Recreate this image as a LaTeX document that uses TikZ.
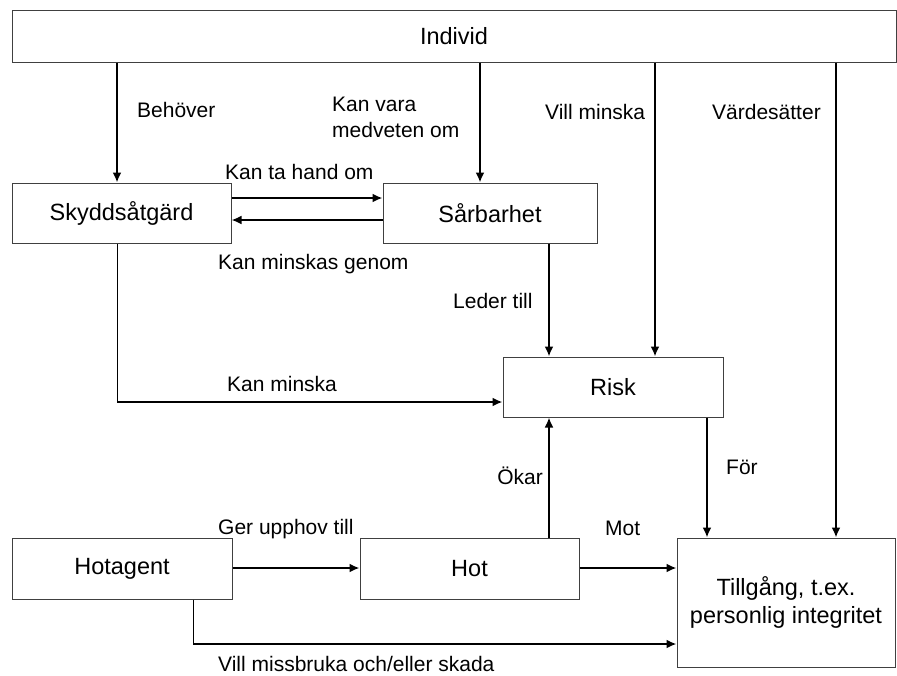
\documentclass[tikz,border=0pt]{standalone}
\usepackage{fontspec}
\setmainfont{Liberation Sans}
\usetikzlibrary{arrows.meta}

\begin{document}
\begin{tikzpicture}[x=1pt,y=-1pt]
        \tikzstyle{box}=[draw=black!75,line width=1pt,rectangle,inner sep=0pt,font=\fontsize{23.5}{28}\selectfont,align=center]
        \tikzstyle{lbl}=[inner sep=0pt,anchor=west,font=\fontsize{21}{26}\selectfont,align=left]
        \tikzstyle{arr}=[line width=2pt,-{Latex[length=10pt,width=9pt]}]
        \useasboundingbox (0,0) rectangle (897,675);
        % boxes
        \node[box,minimum width=884pt,minimum height=52pt] (individ) at (454,36) {Individ};
        \node[box,minimum width=219pt,minimum height=60pt] (skydd) at (121.5,213) {Skyddsåtgärd};
        \node[box,minimum width=214pt,minimum height=60pt] (sarbar) at (490,213) {Sårbarhet};
        \node[box,minimum width=220pt,minimum height=60pt] (risk) at (613,387) {Risk};
        \node[box,minimum width=220pt,minimum height=61pt] (hotagent) at (122,568.5) {Hotagent};
        \node[box,minimum width=219pt,minimum height=61pt] (hot) at (469.5,568.5) {Hot};
        \node[box,minimum width=218pt,minimum height=129pt] (tillgang) at (786,602.5) {Tillgång, t.ex.\\personlig integritet};
        % columns and rows of the connectors
        \coordinate (xskydd) at (117,0);
        \coordinate (xsarbar) at (480,0);
        \coordinate (xlead) at (549,0);
        \coordinate (xvill) at (655,0);
        \coordinate (xfor) at (707,0);
        \coordinate (xvarde) at (836,0);
        \coordinate (xagent) at (193,0);
        \coordinate (yta) at (0,198);
        \coordinate (ymin) at (0,220);
        \coordinate (ykan) at (0,402);
        \coordinate (yhot) at (0,568);
        \coordinate (ymiss) at (0,644);
        % connectors
        \draw[arr] (individ.south -| xskydd) -- (skydd.north -| xskydd);
        \draw[arr] (individ.south -| xsarbar) -- (sarbar.north -| xsarbar);
        \draw[arr] (individ.south -| xvill) -- (risk.north -| xvill);
        \draw[arr] (individ.south -| xvarde) -- (tillgang.north -| xvarde);
        \draw[arr] (skydd.east |- yta) -- (sarbar.west |- yta);
        \draw[arr] (sarbar.west |- ymin) -- (skydd.east |- ymin);
        \draw[arr] (sarbar.south -| xlead) -- (risk.north -| xlead);
        \draw[line width=1pt] (skydd.south -| xskydd) -- (xskydd |- ykan);
        \draw[arr] (xskydd |- ykan) -- (risk.west |- ykan);
        \draw[arr] (hot.north -| xlead) -- (risk.south -| xlead);
        \draw[arr] (risk.south -| xfor) -- (tillgang.north -| xfor);
        \draw[arr] (hotagent.east |- yhot) -- (hot.west |- yhot);
        \draw[arr] (hot.east |- yhot) -- (tillgang.west |- yhot);
        \draw[line width=1pt] (hotagent.south -| xagent) -- (xagent |- ymiss);
        \draw[arr] (xagent |- ymiss) -- (tillgang.west |- ymiss);
        % labels
        \node[lbl] (behover) at (137,110) {Behöver};
        \node[lbl] (medveten) at (332,117) {Kan vara\\medveten om};
        \node[lbl] (villminska) at (545,112) {Vill minska};
        \node[lbl] (vardesatter) at (712,112) {Värdesätter};
        \node[lbl] (tahand) at (225,172) {Kan ta hand om};
        \node[lbl] (genom) at (218,264) {Kan minskas genom};
        \node[lbl] (leder) at (453,301) {Leder till};
        \node[lbl] (kanminska) at (227,384) {Kan minska};
        \node[lbl,anchor=east] (okar) at (543,476) {Ökar};
        \node[lbl] (for) at (726,467) {För};
        \node[lbl] (upphov) at (218,529) {Ger upphov till};
        \node[lbl] (mot) at (605,528) {Mot};
        \node[lbl] (missbruka) at (218,664) {Vill missbruka och/eller skada};
\end{tikzpicture}
\end{document}
